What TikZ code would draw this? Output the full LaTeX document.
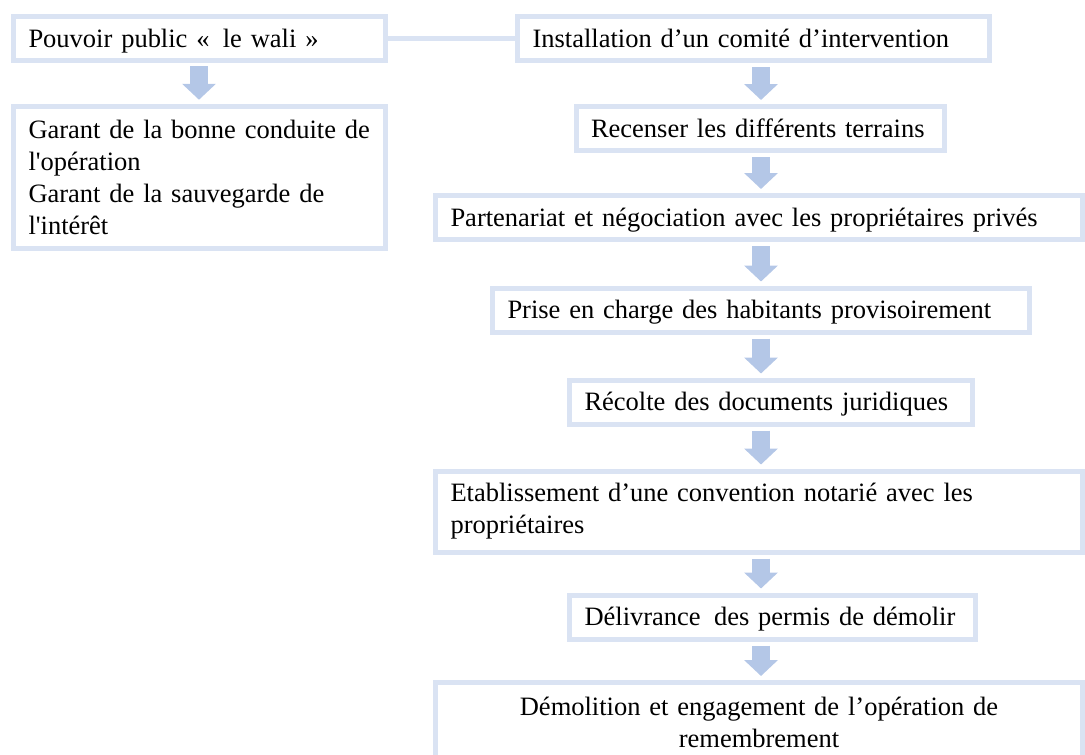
\documentclass[tikz,border=0pt]{standalone}
\usepackage{fontspec}
\setmainfont{Liberation Serif}
\usetikzlibrary{arrows.meta,calc}
\definecolor{bordc}{HTML}{DAE3F3}
\definecolor{arrc}{HTML}{B4C7E7}
\tikzset{
  boxnode/.style={draw=bordc, line width=5pt, fill=white, inner xsep=15pt, inner ysep=0pt,
    align=left, font=\fontsize{26.5}{32}\selectfont, anchor=center},
  oneline/.style={text height=22pt, text depth=5pt},
  multiline/.style={},
  fatarrow/.style={draw=arrc, line width=18pt, -{Triangle[width=33pt,length=16pt]}},
  linkline/.style={draw=bordc, line width=5pt}
}
\newcommand{\bx}[7]{% name, cx, cy, w, h, style, text
  \node[boxnode, #6, minimum width=#4pt, minimum height=#5pt, text width=#4pt-30pt] (#1) at (#2,#3) {#7};}
\begin{document}
\begin{tikzpicture}[x=1pt,y=-1pt]
\useasboundingbox (0,0) rectangle (1085,755);
% left column
\bx{b1}{199.5}{38.5}{372}{44}{oneline}{Pouvoir public «\enspace le wali »}
\bx{b2}{199.5}{177.5}{372}{142.5}{multiline}{Garant de la bonne conduite de\\ l\textquotesingle opération\\ Garant de la sauvegarde de\\ l\textquotesingle intérêt}
% right column
\bx{i}{753.5}{38.5}{472}{44}{oneline}{Installation d’un comité d’intervention}
\bx{r}{760.25}{128.5}{368.5}{44}{oneline}{Recenser les différents terrains}
\bx{p}{759}{217.5}{647}{44}{oneline}{Partenariat et négociation avec les propriétaires privés}
\bx{pr}{761}{310}{537}{44}{oneline}{Prise en charge des habitants provisoirement}
\bx{re}{771}{402}{403}{44}{oneline}{Récolte des documents juridiques}
\bx{e}{759}{511.5}{647}{81}{multiline}{Etablissement d’une convention notarié avec les\\ propriétaires}
\bx{d}{772.5}{617}{406}{44}{oneline}{Délivrance\enspace des permis de démolir}
\node[boxnode, align=center, minimum width=647pt, minimum height=80pt, text width=617pt] (dm) at (759,722.5)
  {Démolition et engagement de l’opération de\\ remembrement};
% connector
\draw[linkline] (b1.east) -- (i.west);
% arrows
\coordinate (la) at (199,0);
\coordinate (ra) at (761,0);
\draw[fatarrow] ($(b1.south -| la)+(0,3)$) -- ($(b2.north -| la)+(0,-4)$);
\foreach \a/\b in {i/r, r/p, p/pr, pr/re, re/e, e/d, d/dm}{
  \draw[fatarrow] ($(\a.south -| ra)+(0,4)$) -- ($(\b.north -| ra)+(0,-4)$);
}
\end{tikzpicture}
\end{document}
